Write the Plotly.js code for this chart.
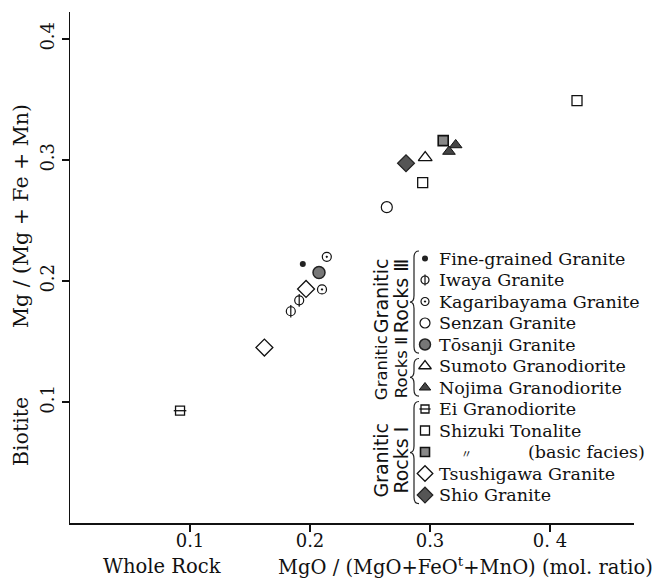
<!DOCTYPE html>
<html>
<head>
<meta charset="utf-8">
<script src="https://cdn.plot.ly/plotly-3.0.1.min.js"></script>
<style>html,body{margin:0;padding:0;background:#fff;}</style>
</head>
<body>
<div id="chart" style="width:664px;height:580px;"></div>
<script>
// ---------------- data ----------------
// x: Whole rock MgO/(MgO+FeOt+MnO), y: Biotite Mg/(Mg+Fe+Mn)
const fineX = [0.194];            const fineY = [0.214];
const iwayaX = [0.184, 0.191];    const iwayaY = [0.175, 0.184];
const kagariX = [0.214, 0.210];   const kagariY = [0.220, 0.193];
const senzanX = [0.264];          const senzanY = [0.261];
const tosanjiX = [0.2075];        const tosanjiY = [0.207];
const sumotoX = [0.296];          const sumotoY = [0.302];
const nojimaX = [0.3214, 0.3158]; const nojimaY = [0.3124, 0.307];
const eiX = [0.0917];             const eiY = [0.0928];
const shizukiX = [0.2939, 0.4225];const shizukiY = [0.2813, 0.349];
const basicX = [0.311];           const basicY = [0.316];
const tsushiX = [0.1967, 0.162];  const tsushiY = [0.1934, 0.145];
const shioX = [0.280];            const shioY = [0.2973];

const xTickVals = [0.1, 0.2, 0.3, 0.4];
const xTickText = ['0.1', '0.2', '0.3', '0. 4'];
const yTickVals = [0.1, 0.2, 0.3, 0.4];
const yTickText = ['0.1', '0.2', '0.3', '0.4'];

const legendNames = ['Fine-grained Granite', 'Iwaya Granite', 'Kagaribayama Granite',
  'Senzan Granite', 'Tōsanji Granite', 'Sumoto Granodiorite', 'Nojima Granodiorite',
  'Ei Granodiorite', 'Shizuki Tonalite', '(basic facies)', 'Tsushigawa Granite', 'Shio Granite'];
const groupLabels = ['Rocks Ⅲ', 'Rocks Ⅱ', 'Rocks Ⅰ'];

// ---------------- styles ----------------
const K = '#111';
const styles = [
  {symbol: 'circle', size: 6, color: '#222', line: {width: 0}},
  {symbol: 'circle-open', size: 9, color: K, line: {width: 1.2}, over: 'line-ns-open'},
  {symbol: 'circle-open-dot', size: 9, color: K, line: {width: 1.2}},
  {symbol: 'circle-open', size: 11, color: K, line: {width: 1.2}},
  {symbol: 'circle', size: 12, color: '#777', line: {width: 1.5, color: '#222'}},
  {symbol: 'triangle-up-open', size: 12, color: K, line: {width: 1.3}},
  {symbol: 'triangle-up', size: 11, color: '#444', line: {width: 1, color: K}},
  {symbol: 'square-open', size: 9, color: K, line: {width: 1.3}, over: 'line-ew-open'},
  {symbol: 'square-open', size: 10, color: K, line: {width: 1.3}},
  {symbol: 'square', size: 10, color: '#888', line: {width: 1.6, color: K}},
  {symbol: 'diamond-open', size: 13, color: K, line: {width: 1.3}},
  {symbol: 'diamond', size: 13, color: '#555', line: {width: 1.2, color: '#222'}}
];
const seriesX = [fineX, iwayaX, kagariX, senzanX, tosanjiX, sumotoX, nojimaX, eiX, shizukiX, basicX, tsushiX, shioX];
const seriesY = [fineY, iwayaY, kagariY, senzanY, tosanjiY, sumotoY, nojimaY, eiY, shizukiY, basicY, tsushiY, shioY];

function mk(st, sym) {
  return {symbol: sym || st.symbol, size: st.size, color: st.color,
          line: Object.assign({color: st.color}, st.line)};
}

const traces = [];
seriesX.forEach((xs, i) => {
  const st = styles[i];
  traces.push({type: 'scatter', mode: 'markers', x: xs, y: seriesY[i], name: legendNames[i],
    marker: mk(st), showlegend: false, hoverinfo: 'x+y'});
  if (st.over) traces.push({type: 'scatter', mode: 'markers', x: xs, y: seriesY[i],
    marker: mk(st, st.over), showlegend: false, hoverinfo: 'skip'});
});

// ---------------- custom legend (on an overlay axis: x2 = pixels, y2 = row index) ----------------
const LEG_SYM_X = 425, LEG_TXT_X = 437;
const rows = legendNames.map((_, i) => i);
const annotations = [];
rows.forEach(i => {
  const st = styles[i];
  const lm = mk(st); lm.size = Math.max(6, st.size - 1);
  traces.push({type: 'scatter', mode: 'markers', x: [LEG_SYM_X], y: [i], xaxis: 'x2', yaxis: 'y2',
    marker: lm, showlegend: false, hoverinfo: 'skip'});
  if (st.over) {
    const lo = mk(st, st.over); lo.size = lm.size;
    traces.push({type: 'scatter', mode: 'markers', x: [LEG_SYM_X], y: [i], xaxis: 'x2', yaxis: 'y2',
      marker: lo, showlegend: false, hoverinfo: 'skip'});
  }
  const basic = legendNames[i].startsWith('(');
  annotations.push({xref: 'x2', yref: 'y2', x: basic ? 526 : LEG_TXT_X, y: i, xanchor: 'left', yanchor: 'middle',
    showarrow: false, text: legendNames[i], font: {family: 'DejaVu Serif', size: 17.5, color: K}});
  if (basic) annotations.push({xref: 'x2', yref: 'y2', x: 466, y: i + 0.05, xanchor: 'center', yanchor: 'middle',
    showarrow: false, text: '〃', font: {family: 'Noto Sans CJK JP', size: 11, color: K}});
});

// group labels and braces
const groups = [{from: 0, to: 4, c: 1.75, fs: 19}, {from: 5, to: 6, c: 5.1, fs: 16.5}, {from: 7, to: 11, c: 9.4, fs: 19}];
const shapes = [];
groups.forEach((g, k) => {
  annotations.push({xref: 'x2', yref: 'y2', x: 381, y: g.c, textangle: -90, showarrow: false,
    text: 'Granitic', font: {family: 'DejaVu Sans', size: g.fs, color: K}, xanchor: 'center', yanchor: 'middle'});
  annotations.push({xref: 'x2', yref: 'y2', x: 401, y: g.c, textangle: -90, showarrow: false,
    text: groupLabels[k], font: {family: 'DejaVu Sans', size: g.fs, color: K}, xanchor: 'center', yanchor: 'middle'});
  const t = g.from - 0.35, b = g.to + 0.4, m = (t + b) / 2, d = 0.3;
  const xr = 419, xl = 414, xm = 410;
  shapes.push({type: 'path', xref: 'x2', yref: 'y2', line: {color: '#222', width: 1.2},
    path: `M ${xr},${t} Q ${xl},${t} ${xl},${t + d} L ${xl},${m - d} Q ${xl},${m} ${xm},${m} ` +
          `Q ${xl},${m} ${xl},${m + d} L ${xl},${b - d} Q ${xl},${b} ${xr},${b}`});
});

// axis titles (positioned in pixel terms on the paper)
const px = v => (v - 70) / 564, py = v => (523 - v) / 511;
const tf = {family: 'DejaVu Serif', size: 19.5, color: K};
annotations.push({xref: 'paper', yref: 'paper', x: px(101), y: py(566), showarrow: false,
  xanchor: 'left', yanchor: 'middle', text: 'Whole Rock', font: tf});
annotations.push({xref: 'paper', yref: 'paper', x: px(655), y: py(566), showarrow: false,
  xanchor: 'right', yanchor: 'middle', text: 'MgO / (MgO+FeO<sup>t</sup>+MnO) (mol. ratio)', font: tf});
annotations.push({xref: 'paper', yref: 'paper', x: px(21), y: py(432), showarrow: false,
  xanchor: 'center', yanchor: 'middle', textangle: -90, text: 'Biotite', font: {family: 'DejaVu Serif', size: 20.5, color: K}});
annotations.push({xref: 'paper', yref: 'paper', x: px(21), y: py(216), showarrow: false,
  xanchor: 'center', yanchor: 'middle', textangle: -90, text: 'Mg / (Mg + Fe + Mn)', font: {family: 'DejaVu Serif', size: 20.5, color: K}});

const axisCommon = {showline: true, linecolor: '#111', linewidth: 1.5, ticks: 'outside', ticklen: 7,
  tickwidth: 1.2, tickcolor: '#111', showgrid: false, zeroline: false, mirror: false, fixedrange: true,
  tickfont: {family: 'DejaVu Serif', size: 18, color: K}};

const layout = {
  width: 664, height: 580,
  margin: {l: 70, r: 30, t: 12, b: 57},
  paper_bgcolor: '#fff', plot_bgcolor: '#fff',
  showlegend: false,
  xaxis: Object.assign({}, axisCommon, {range: [0, 0.47], tickmode: 'array', tickvals: xTickVals,
    ticktext: xTickText, ticklabelstandoff: -6}),
  yaxis: Object.assign({}, axisCommon, {range: [0, 0.4223], tickmode: 'array', tickvals: yTickVals,
    ticktext: yTickText, tickangle: -90}),
  xaxis2: {overlaying: 'x', range: [70, 634], visible: false, fixedrange: true},
  yaxis2: {overlaying: 'y', range: [12.302, -11.465], visible: false, fixedrange: true},
  annotations: annotations,
  shapes: shapes
};

Plotly.newPlot('chart', traces, layout, {displayModeBar: false, staticPlot: true});
</script>
</body>
</html>
